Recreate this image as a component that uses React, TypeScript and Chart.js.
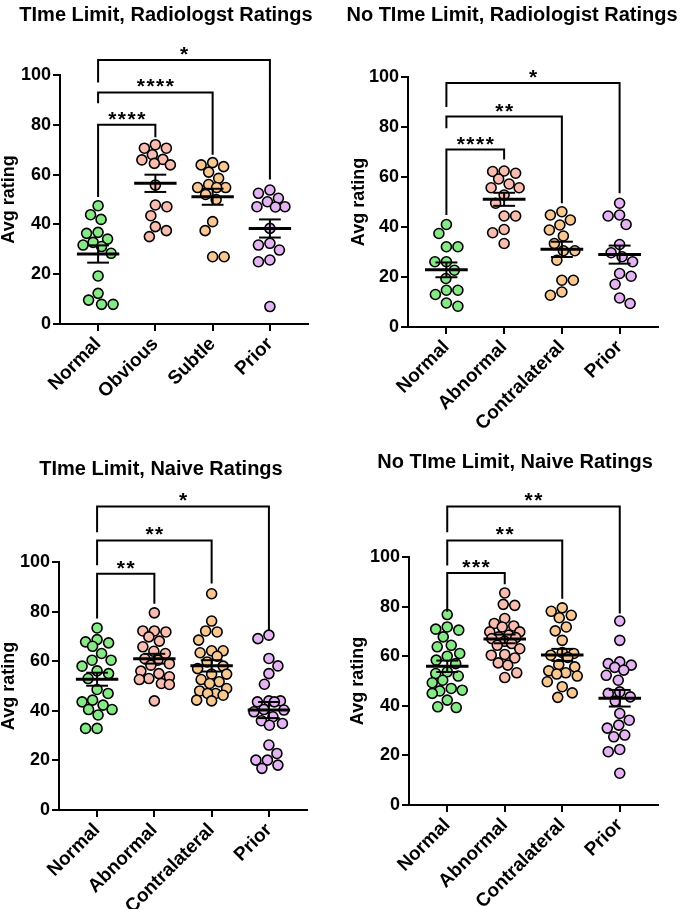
import React, { useEffect, useRef } from 'react';
import { Chart, registerables } from 'chart.js';

Chart.register(...registerables);

const FONT = '"Liberation Sans", Arial, Helvetica, sans-serif';

// ---------- categories & ticks ----------
const RAD_CATS = ['Normal', 'Obvious', 'Subtle', 'Prior'];
const STD_CATS = ['Normal', 'Abnormal', 'Contralateral', 'Prior'];
const Y_TICKS = [0, 20, 40, 60, 80, 100];
const GROUP_COLORS = ['#85e985', '#fabcaf', '#f9c890', '#e4b3f4'];

// ---------- Time Limit, Radiologist ----------
const TL_RAD_NORMAL = [47.5, 43.9, 42, 36.8, 36.4, 34.1, 32.8, 31.7, 31.1, 28.4, 19.3, 12.3, 9.6, 7.9, 7.9];
const TL_RAD_OBVIOUS = [72, 70.6, 70.6, 68, 66.1, 65.9, 64.5, 63.9, 55.8, 47.8, 47.1, 43.5, 39.1, 37.5, 35.1];
const TL_RAD_SUBTLE = [64.8, 63.9, 63.2, 61, 58.5, 56, 54.8, 54.8, 54.8, 52, 50, 41.1, 37.5, 27, 27];
const TL_RAD_PRIOR = [53.8, 52.5, 50.5, 49.1, 47.1, 47.1, 47, 38.4, 32.4, 31.7, 29.7, 25.7, 25, 7];

// ---------- No Time Limit, Radiologist ----------
const NTL_RAD_NORMAL = [41, 37.4, 32.1, 32.1, 26.1, 26.1, 22.7, 19.4, 14.7, 14.7, 13, 9.6, 8.3];
const NTL_RAD_ABNORMAL = [62.4, 62.2, 61.5, 59.2, 57.2, 55.7, 55.7, 52.8, 49.5, 44.4, 44.4, 39, 37.7, 33.4];
const NTL_RAD_CONTRA = [46.1, 44.8, 42.8, 40.8, 38.8, 36.4, 33.4, 30.5, 30.5, 26.7, 18.7, 18.7, 14, 12.7];
const NTL_RAD_PRIOR = [49.5, 44.8, 44.4, 41, 33, 29.7, 28.1, 26.1, 21.4, 20.3, 17.1, 11.6, 9.4];

// ---------- Time Limit, Naive ----------
const TL_NAIVE_NORMAL = [73.4, 68.7, 67.8, 67.4, 66, 63.1, 60.4, 60.4, 58, 56.1, 55, 53, 48.6, 47, 44.3, 43.6, 42.3, 40.5, 40.5, 38.3, 32.9, 32.9];
const TL_NAIVE_ABNORMAL = [79.5, 72.2, 72.2, 71.8, 69.8, 68.1, 65.8, 64, 63.1, 61, 60.4, 59, 58.4, 56, 55, 53.7, 53, 52.6, 51, 50.6, 44];
const TL_NAIVE_CONTRA = [87.2, 76.2, 72.2, 71.8, 68.5, 64.2, 64.2, 63.4, 62, 59.7, 58, 57, 54.8, 54.8, 52.6, 51.7, 51, 49, 48, 47, 47, 46.3, 44.3, 44];
const TL_NAIVE_PRIOR = [70.5, 69.1, 61.1, 58.1, 55, 50.7, 44, 44, 43.6, 43.6, 40.5, 40.3, 39.6, 37.6, 36, 34.9, 34.2, 26.2, 22.8, 20.1, 20.1, 18.1, 16.8];

// ---------- No Time Limit, Naive ----------
const NTL_NAIVE_NORMAL = [76.8, 71.8, 70.9, 70.5, 67.8, 64.4, 63.8, 61.1, 60, 58.4, 57, 53.7, 53, 52, 50.3, 49.3, 47, 46.3, 46, 45, 42.3, 39.6, 39.3];
const NTL_NAIVE_ABNORMAL = [85.5, 80.9, 80.5, 75.2, 73.2, 72.2, 71.8, 69.8, 69.8, 68.5, 67.8, 67.5, 67.1, 66, 65.1, 64.4, 63, 60.7, 60.4, 59.3, 57.3, 56.4, 53.3, 51.4];
const NTL_NAIVE_CONTRA = [79.5, 78.1, 76.5, 75.5, 71.8, 70.2, 66.4, 61.5, 61.1, 60.4, 59.5, 56.6, 55.7, 54.1, 53.3, 52.8, 52, 49.7, 47.7, 45.2, 43.4];
const NTL_NAIVE_PRIOR = [74.2, 66.4, 57.7, 57, 56.4, 55.5, 54.4, 52.3, 50.3, 45.6, 45, 43.6, 41.9, 36.9, 34.2, 32.2, 31, 28.2, 27.5, 22.4, 21.5, 12.8];

// ---------- significance brackets: [fromGroup, toGroup, barValue, leftLegEnd, rightLegEnd, label] ----------
type Bracket = [number, number, number, number, number, string];
const TL_RAD_BRACKETS: Bracket[] = [
  [0, 1, 80, 51, 75, '****'],
  [0, 2, 93, 88.7, 68, '****'],
  [0, 3, 106, 97, 58, '*'],
];
const NTL_RAD_BRACKETS: Bracket[] = [
  [0, 1, 71, 44.8, 67, '****'],
  [0, 2, 84.2, 79.5, 49.5, '**'],
  [0, 3, 97.6, 88, 53.5, '*'],
];
const TL_NAIVE_BRACKETS: Bracket[] = [
  [0, 1, 95.3, 77.2, 83.2, '**'],
  [0, 2, 108.7, 98.7, 91.3, '**'],
  [0, 3, 122.4, 112, 72.5, '*'],
];
const NTL_NAIVE_BRACKETS: Bracket[] = [
  [0, 1, 93.5, 77.9, 89, '***'],
  [0, 2, 106.7, 96.6, 83.2, '**'],
  [0, 3, 120.4, 110, 77.2, '**'],
];

const X_MIN = -0.665;
const X_MAX = 3.665;

interface Box { left: number; top: number; w: number; h: number }
interface Area { left: number; right: number; top: number; bottom: number }
interface PanelSpec {
  title: string;
  cats: string[];
  groups: number[][];
  brackets: Bracket[];
  canvas: Box;
  area: Area;
  titleX: number;
  titleY: number;
  yTitlePad: number;
}

const PANELS: PanelSpec[] = [
  {
    title: 'TIme Limit, Radiologst Ratings',
    cats: RAD_CATS,
    groups: [TL_RAD_NORMAL, TL_RAD_OBVIOUS, TL_RAD_SUBTLE, TL_RAD_PRIOR],
    brackets: TL_RAD_BRACKETS,
    canvas: { left: 0, top: 0, w: 342, h: 470 },
    area: { left: 60, right: 308, top: 75, bottom: 324 },
    titleX: 166, titleY: 15, yTitlePad: 0,
  },
  {
    title: 'No TIme Limit, Radiologist Ratings',
    cats: STD_CATS,
    groups: [NTL_RAD_NORMAL, NTL_RAD_ABNORMAL, NTL_RAD_CONTRA, NTL_RAD_PRIOR],
    brackets: NTL_RAD_BRACKETS,
    canvas: { left: 342, top: 0, w: 343, h: 470 },
    area: { left: 66, right: 316, top: 77, bottom: 327 },
    titleX: 170, titleY: 15, yTitlePad: 8,
  },
  {
    title: 'TIme Limit, Naive Ratings',
    cats: STD_CATS,
    groups: [TL_NAIVE_NORMAL, TL_NAIVE_ABNORMAL, TL_NAIVE_CONTRA, TL_NAIVE_PRIOR],
    brackets: TL_NAIVE_BRACKETS,
    canvas: { left: 0, top: 450, w: 342, h: 459 },
    area: { left: 59, right: 307, top: 112, bottom: 360 },
    titleX: 161, titleY: 19, yTitlePad: 0,
  },
  {
    title: 'No TIme Limit, Naive Ratings',
    cats: STD_CATS,
    groups: [NTL_NAIVE_NORMAL, NTL_NAIVE_ABNORMAL, NTL_NAIVE_CONTRA, NTL_NAIVE_PRIOR],
    brackets: NTL_NAIVE_BRACKETS,
    canvas: { left: 342, top: 450, w: 343, h: 459 },
    area: { left: 67, right: 316, top: 107, bottom: 355 },
    titleX: 173, titleY: 12, yTitlePad: 7,
  },
];

// deterministic beeswarm layout (capped width): returns x offsets in category units
function swarm(values: number[], xPx: number, yPx: number, minDist: number, cap: number): number[] {
  const order = values.map((_, i) => i).sort((a, b) => values[b] - values[a]);
  const placed: { x: number; y: number }[] = [];
  const out: number[] = new Array(values.length).fill(0);
  let flip = false;
  for (const i of order) {
    const yy = values[i] * yPx;
    let best: number | null = null;
    let fallback = 0;
    let fallbackScore = -1;
    for (let k = 0; k * 0.5 <= cap; k++) {
      const mag = k * 0.5;
      const cands = mag === 0 ? [0] : flip ? [mag, -mag] : [-mag, mag];
      for (const c of cands) {
        let dmin = Infinity;
        for (const p of placed) dmin = Math.min(dmin, Math.hypot(p.x - c, p.y - yy));
        if (dmin >= minDist) {
          best = c;
          break;
        }
        if (dmin > fallbackScore) {
          fallbackScore = dmin;
          fallback = c;
        }
      }
      if (best !== null) break;
    }
    const pos = best !== null ? best : fallback;
    if (pos !== 0) flip = !flip;
    placed.push({ x: pos, y: yy });
    out[i] = pos / xPx;
  }
  return out;
}

function meanSem(v: number[]): [number, number] {
  const n = v.length;
  const m = v.reduce((a, b) => a + b, 0) / n;
  const sd = Math.sqrt(v.reduce((a, b) => a + (b - m) * (b - m), 0) / (n - 1));
  return [m, sd / Math.sqrt(n)];
}

function buildChart(canvas: HTMLCanvasElement, spec: PanelSpec): Chart {
  const { area, canvas: box } = spec;
  const xPx = (area.right - area.left) / (X_MAX - X_MIN);
  const yPx = (area.bottom - area.top) / 100;

  const datasets: any[] = [];
  const lineBase = {
    showLine: true,
    pointRadius: 0,
    pointHoverRadius: 0,
    borderColor: '#000',
    borderCapStyle: 'butt',
    borderJoinStyle: 'miter',
    clip: false,
    order: 1,
  };

  spec.groups.forEach((vals, gi) => {
    const [m, s] = meanSem(vals);
    datasets.push({ ...lineBase, borderWidth: 3, data: [{ x: gi - 0.37, y: m }, { x: gi + 0.37, y: m }] });
    datasets.push({ ...lineBase, borderWidth: 2, data: [{ x: gi, y: m - s }, { x: gi, y: m + s }] });
    datasets.push({ ...lineBase, borderWidth: 2, data: [{ x: gi - 0.19, y: m + s }, { x: gi + 0.19, y: m + s }] });
    datasets.push({ ...lineBase, borderWidth: 2, data: [{ x: gi - 0.19, y: m - s }, { x: gi + 0.19, y: m - s }] });
  });

  spec.brackets.forEach((b) => {
    datasets.push({
      ...lineBase,
      borderWidth: 2,
      data: [
        { x: b[0], y: b[3] },
        { x: b[0], y: b[2] },
        { x: b[1], y: b[2] },
        { x: b[1], y: b[4] },
      ],
    });
  });

  spec.groups.forEach((vals, gi) => {
    const offs = swarm(vals, xPx, yPx, 11.5, 15);
    datasets.push({
      data: vals.map((v, j) => ({ x: gi + offs[j], y: v })),
      backgroundColor: GROUP_COLORS[gi],
      borderColor: '#000',
      borderWidth: 1.6,
      pointRadius: 5,
      pointHoverRadius: 5,
      clip: false,
      order: 2,
    });
  });

  const annot = {
    id: 'annot' + spec.title,
    afterDatasetsDraw(chart: any) {
      const { ctx } = chart;
      const xs = chart.scales.x;
      const ys = chart.scales.y;
      ctx.save();
      ctx.fillStyle = '#000';
      ctx.textAlign = 'center';
      ctx.font = `bold 21px ${FONT}`;
      ctx.textBaseline = 'alphabetic';
      (ctx as any).letterSpacing = '1.5px';
      spec.brackets.forEach((b) => {
        const px = xs.getPixelForValue((b[0] + b[1]) / 2);
        const py = ys.getPixelForValue(b[2]);
        ctx.fillText(b[5], px + 0.75, py + 1);
      });
      (ctx as any).letterSpacing = '0px';
      ctx.font = `bold 20px ${FONT}`;
      ctx.textBaseline = 'middle';
      ctx.fillText(spec.title, spec.titleX, spec.titleY);
      ctx.restore();
    },
  };

  const axisGrid = {
    drawOnChartArea: false,
    drawTicks: true,
    tickLength: 7,
    color: '#000',
    lineWidth: 2,
  };
  const axisBorder = { color: '#000', width: 2 };

  return new Chart(canvas, {
    type: 'scatter',
    data: { datasets },
    options: {
      responsive: false,
      animation: false,
      devicePixelRatio: 1,
      events: [],
      layout: {
        padding: { top: area.top, left: 0, right: box.w - area.right, bottom: 0 },
      },
      plugins: {
        legend: { display: false },
        title: { display: false },
        tooltip: { enabled: false },
      },
      scales: {
        x: {
          type: 'linear',
          min: X_MIN,
          max: X_MAX,
          afterBuildTicks: (s: any) => {
            s.ticks = spec.cats.map((_, i) => ({ value: i }));
          },
          afterFit: (s: any) => {
            s.height = box.h - area.bottom;
          },
          ticks: {
            autoSkip: false,
            maxRotation: 45,
            minRotation: 45,
            padding: 2,
            color: '#000',
            font: { family: FONT, size: 19, weight: 'bold' },
            callback: (v: any) => spec.cats[v] ?? '',
          },
          grid: axisGrid,
          border: axisBorder,
        },
        y: {
          type: 'linear',
          min: 0,
          max: 100,
          afterBuildTicks: (s: any) => {
            s.ticks = Y_TICKS.map((v) => ({ value: v }));
          },
          afterFit: (s: any) => {
            s.width = area.left;
          },
          ticks: {
            padding: 2,
            color: '#000',
            font: { family: FONT, size: 18, weight: 'bold' },
          },
          grid: axisGrid,
          border: axisBorder,
          title: {
            display: true,
            text: 'Avg rating',
            color: '#000',
            font: { family: FONT, size: 18, weight: 'bold', lineHeight: 1 },
            padding: { top: spec.yTitlePad, bottom: 0 },
          },
        },
      },
    } as any,
    plugins: [annot],
  });
}

function Panel({ spec }: { spec: PanelSpec }) {
  const ref = useRef<HTMLCanvasElement | null>(null);
  useEffect(() => {
    if (!ref.current) return;
    const chart = buildChart(ref.current, spec);
    return () => chart.destroy();
  }, [spec]);
  return (
    <canvas
      ref={ref}
      width={spec.canvas.w}
      height={spec.canvas.h}
      style={{
        position: 'absolute',
        left: spec.canvas.left,
        top: spec.canvas.top,
        width: spec.canvas.w,
        height: spec.canvas.h,
        display: 'block',
      }}
    />
  );
}

export default function App() {
  return (
    <div style={{ position: 'absolute', left: 0, top: 0, width: 685, height: 909, background: '#fff' }}>
      {PANELS.map((p) => (
        <Panel key={p.title} spec={p} />
      ))}
    </div>
  );
}
